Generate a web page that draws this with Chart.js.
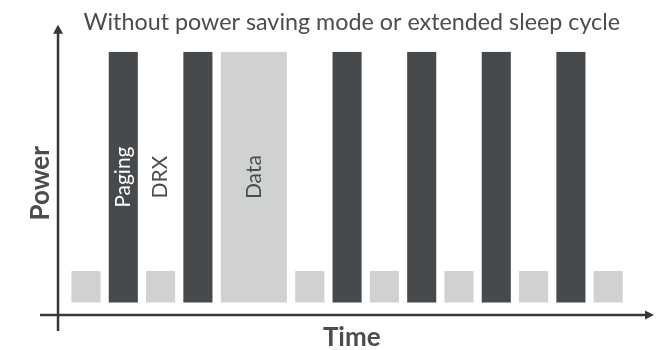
<!DOCTYPE html>
<html>
<head>
<meta charset="utf-8">
<script src="https://cdn.jsdelivr.net/npm/chart.js@4/dist/chart.umd.min.js"></script>
<style>
  html, body { margin: 0; padding: 0; background: #ffffff; }
  #wrap { width: 662px; height: 350px; }
</style>
</head>
<body>
<div id="wrap"><canvas id="c" width="662" height="350"></canvas></div>
<script>
// ---- data ----
const chartTitle = 'Without power saving mode or extended sleep cycle';
const xTitle = 'Time';
const yTitle = 'Power';
const timeSlots = [0, 1, 2, 3, 4, 5, 6, 7, 8, 9, 10, 11, 12, 13, 14];
const floorPower = 0.47;
const drxTimes = [0, 2, 6, 8, 10, 12, 14];
const drxPower = [1.67, 1.67, 1.67, 1.67, 1.67, 1.67, 1.67];
const pagingTimes = [1, 3, 7, 9, 11, 13];
const pagingPower = [10, 10, 10, 10, 10, 10];
const dataTimes = [4.5];
const dataPower = [10];
const barLabels = ['Paging', 'DRX', 'Data'];

const DARK = '#464a4d';
const LIGHT = '#d0d1d3';
const TEXT = '#4a4d4e';
const FONT = 'Lato';

const toBars = (times, vals) => times.map((t, i) => ({ x: t, y: [floorPower, vals[i]] }));

const labelPlugin = {
  id: 'barText',
  afterDatasetsDraw(chart) {
    const ctx = chart.ctx;
    const paging = chart.getDatasetMeta(1).data[0];
    const drx = chart.getDatasetMeta(0).data[1];
    const data = chart.getDatasetMeta(2).data[0];
    const midY = (paging.y + paging.base) / 2;
    const items = [
      { el: paging, text: barLabels[0], color: '#ffffff' },
      { el: drx, text: barLabels[1], color: TEXT },
      { el: data, text: barLabels[2], color: TEXT }
    ];
    ctx.save();
    ctx.font = '400 21px ' + FONT;
    ctx.textAlign = 'center';
    ctx.textBaseline = 'middle';
    items.forEach(it => {
      ctx.save();
      ctx.translate(it.el.x, midY);
      ctx.rotate(-Math.PI / 2);
      ctx.fillStyle = it.color;
      ctx.fillText(it.text, 0, 0);
      ctx.restore();
    });
    ctx.restore();
  }
};

const arrowPlugin = {
  id: 'axisArrows',
  afterDraw(chart) {
    const { ctx, chartArea: a } = chart;
    const ox = a.left, oy = a.bottom;
    ctx.save();
    ctx.strokeStyle = '#35383a';
    ctx.fillStyle = '#35383a';
    ctx.lineWidth = 2.5;
    // x axis
    ctx.beginPath();
    ctx.moveTo(ox - 18, oy);
    ctx.lineTo(a.right + 2, oy);
    ctx.stroke();
    ctx.beginPath();
    ctx.moveTo(a.right + 8.5, oy);
    ctx.lineTo(a.right - 0.5, oy - 4.5);
    ctx.lineTo(a.right - 0.5, oy + 4.5);
    ctx.closePath();
    ctx.fill();
    // y axis
    ctx.beginPath();
    ctx.moveTo(ox, oy + 16);
    ctx.lineTo(ox, a.top - 20);
    ctx.stroke();
    ctx.beginPath();
    ctx.moveTo(ox, a.top - 27);
    ctx.lineTo(ox - 5, a.top - 18);
    ctx.lineTo(ox + 5, a.top - 18);
    ctx.closePath();
    ctx.fill();
    ctx.restore();
  }
};

new Chart(document.getElementById('c'), {
  type: 'bar',
  data: {
    datasets: [
      { label: 'DRX', data: toBars(drxTimes, drxPower), backgroundColor: LIGHT,
        barPercentage: 0.78, categoryPercentage: 1 },
      { label: 'Paging', data: toBars(pagingTimes, pagingPower), backgroundColor: DARK,
        barPercentage: 0.78, categoryPercentage: 1 },
      { label: 'Data', data: toBars(dataTimes, dataPower), backgroundColor: LIGHT,
        barPercentage: 1.77, categoryPercentage: 1 }
    ]
  },
  options: {
    responsive: false,
    animation: false,
    events: [],
    layout: { padding: { left: 0, right: 16.5, top: 0, bottom: 0 } },
    datasets: { bar: { grouped: false, borderWidth: 0 } },
    plugins: {
      legend: { display: false },
      tooltip: { enabled: false },
      title: {
        display: true,
        text: chartTitle,
        fullSize: false,
        color: TEXT,
        font: { family: FONT, size: 23.3, weight: '400', lineHeight: 1.2 },
        padding: { top: 8.8, bottom: 14.9 }
      }
    },
    scales: {
      x: {
        type: 'linear',
        min: -0.75,
        max: 15,
        offset: false,
        afterBuildTicks: s => { s.ticks = timeSlots.map(v => ({ value: v })); },
        grid: { display: false, drawTicks: false },
        border: { display: false },
        ticks: { display: false },
        title: {
          display: true, text: xTitle, color: TEXT,
          font: { family: FONT, size: 26, weight: 'bold', lineHeight: 0.92 },
          padding: { top: 11.1, bottom: 0 }
        }
      },
      y: {
        min: 0,
        max: 10,
        grid: { display: false, drawTicks: false },
        border: { display: false },
        ticks: { display: false },
        title: {
          display: true, text: yTitle, color: TEXT,
          font: { family: FONT, size: 26, weight: 'bold', lineHeight: 0.92 },
          padding: { top: 28.5, bottom: 5.6 }
        }
      }
    }
  },
  plugins: [labelPlugin, arrowPlugin]
});
</script>
</body>
</html>
